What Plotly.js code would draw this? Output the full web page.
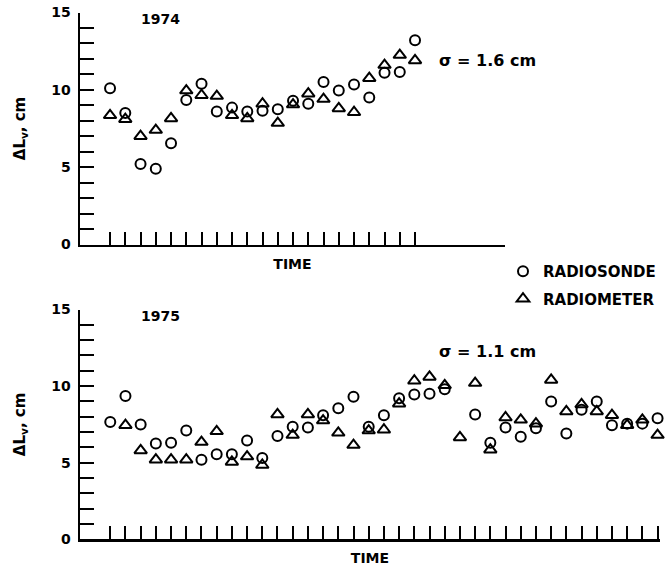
<!DOCTYPE html>
<html>
<head>
<meta charset="utf-8">
<script src="https://cdn.plot.ly/plotly-3.0.1.min.js"></script>
<style>html,body{margin:0;padding:0;background:#fff;}#chart{width:668px;height:570px;}</style>
</head>
<body>
<div id="chart"></div>
<script>
// ---- data ----
const time74 = [1,2,3,4,5,6,7,8,9,10,11,12,13,14,15,16,17,18,19,20,21];
const radiosonde74 = [10.1, 8.5, 5.2, 4.9, 6.55, 9.35, 10.4, 8.6, 8.85, 8.6, 8.65, 8.75, 9.3, 9.1, 10.5, 9.95, 10.35, 9.5, 11.1, 11.15, 13.2];
const radiometer74 = [8.35, 8.1, 7.0, 7.4, 8.15, 9.95, 9.65, 9.6, 8.35, 8.15, 9.1, 7.85, 9.05, 9.75, 9.4, 8.8, 8.55, 10.75, 11.6, 12.25, 11.9];

const time75 = [1,2,3,4,5,6,7,8,9,10,11,12,13,14,15,16,17,18,19,20,21,22,23,24,25,26,27,28,29,30,31,32,33,34,35,36,37];
const radiosonde75 = [7.65, 9.35, 7.5, 6.25, 6.3, 7.1, 5.2, 5.55, 5.55, 6.45, 5.3, 6.75, 7.35, 7.3, 8.1, 8.55, 9.3, 7.35, 8.1, 9.2, 9.45, 9.5, 9.8, null, 8.15, 6.3, 7.3, 6.7, 7.25, 9.0, 6.9, 8.45, 9.0, 7.45, 7.55, 7.55, 7.9];
const radiometer75 = [null, 7.45, 5.8, 5.2, 5.2, 5.2, 6.35, 7.05, 5.05, 5.4, 4.85, 8.15, 6.8, 8.15, 7.75, 6.95, 6.15, 7.1, 7.15, 8.85, 10.35, 10.6, 10.05, 6.65, 10.2, 5.85, 7.95, 7.8, 7.55, 10.4, 8.35, 8.8, 8.35, 8.1, 7.45, 7.8, 6.8];

const yLabelVals = [0, 5, 10, 15];
const yLabelText = ['0', '5', '10', '15'];
const seriesNames = ['RADIOSONDE', 'RADIOMETER'];
const panelYears = ['1974', '1975'];
const sigmaTexts = ['σ = 1.6 cm', 'σ = 1.1 cm'];

const FONT = 'DejaVu Sans, Liberation Sans, sans-serif';
const circleMarker = {symbol: 'circle-open', size: 10, color: '#000', line: {color: '#000', width: 2}};
const triMarker = {symbol: 'triangle-up-open', size: 11, color: '#000', line: {color: '#000', width: 2}};

const traces = [
  {x: time74, y: radiosonde74, xaxis: 'x', yaxis: 'y', mode: 'markers', type: 'scatter',
   name: seriesNames[0], legendgroup: 'a', marker: circleMarker, cliponaxis: false},
  {x: time74, y: radiometer74, xaxis: 'x', yaxis: 'y', mode: 'markers', type: 'scatter',
   name: seriesNames[1], legendgroup: 'b', marker: triMarker, cliponaxis: false},
  {x: time75, y: radiosonde75, xaxis: 'x2', yaxis: 'y2', mode: 'markers', type: 'scatter',
   name: seriesNames[0], legendgroup: 'a', showlegend: false, marker: circleMarker, cliponaxis: false},
  {x: time75, y: radiometer75, xaxis: 'x2', yaxis: 'y2', mode: 'markers', type: 'scatter',
   name: seriesNames[1], legendgroup: 'b', showlegend: false, marker: triMarker, cliponaxis: false}
];

const boldFont = (s) => ({family: FONT, size: s, color: '#000', weight: 'bold'});

function xAxis(domain, range, tickvals, anchor) {
  return {
    domain: domain, range: range, anchor: anchor,
    showgrid: false, zeroline: false, showline: true, linecolor: '#000', linewidth: 2.5,
    ticks: 'inside', ticklen: 13, tickwidth: 2, tickcolor: '#000',
    tickmode: 'array', tickvals: tickvals, showticklabels: false,
    title: {text: 'TIME', font: boldFont(14), standoff: 13},
    automargin: false, fixedrange: true
  };
}
function yAxis(domain, anchor) {
  return {
    domain: domain, range: [0, 15], anchor: anchor,
    showgrid: false, zeroline: false, showline: true, linecolor: '#000', linewidth: 2.5,
    ticks: 'inside', ticklen: 14, tickwidth: 2, tickcolor: '#000',
    tickmode: 'array', tickvals: yLabelVals, ticktext: yLabelText,
    minor: {ticks: 'inside', ticklen: 14, tickwidth: 2, tickcolor: '#000', tickmode: 'linear', tick0: 0, dtick: 1, showgrid: false},
    tickfont: boldFont(14),
    ticklabelstandoff: 4,
    title: {text: 'ΔL<sub>v</sub>, cm', font: boldFont(15), standoff: 22},
    automargin: false, fixedrange: true
  };
}

const W = 668, H = 570;
const layout = {
  width: W, height: H,
  margin: {l: 0, r: 0, t: 0, b: 0, pad: 0},
  paper_bgcolor: '#fff', plot_bgcolor: 'rgba(0,0,0,0)',
  font: {family: FONT, color: '#000'},
  xaxis: xAxis([80/W, 505/W], [-0.97, 26.9], time74, 'y'),
  yaxis: yAxis([(H-244.5)/H, (H-12.5)/H], 'x'),
  xaxis2: xAxis([80/W, 660/W], [-0.99, 37.16], time75, 'y2'),
  yaxis2: yAxis([(H-539.3)/H, (H-309.5)/H], 'x2'),
  showlegend: true,
  legend: {
    x: 503/W, y: (H-255)/H, xanchor: 'left', yanchor: 'top',
    bgcolor: 'rgba(0,0,0,0)', borderwidth: 0,
    font: boldFont(15),
    traceorder: 'grouped', tracegroupgap: 5, itemclick: false
  },
  annotations: [
    {text: panelYears[0], xref: 'paper', yref: 'paper', x: 160/W, y: (H-19)/H, showarrow: false,
     xanchor: 'center', yanchor: 'middle', font: boldFont(14)},
    {text: panelYears[1], xref: 'paper', yref: 'paper', x: 160/W, y: (H-316)/H, showarrow: false,
     xanchor: 'center', yanchor: 'middle', font: boldFont(14)},
    {text: sigmaTexts[0], xref: 'paper', yref: 'paper', x: 437/W, y: (H-60)/H, showarrow: false,
     xanchor: 'left', yanchor: 'middle', font: boldFont(16)},
    {text: sigmaTexts[1], xref: 'paper', yref: 'paper', x: 437/W, y: (H-351)/H, showarrow: false,
     xanchor: 'left', yanchor: 'middle', font: boldFont(16)}
  ]
};

Plotly.newPlot('chart', traces, layout, {staticPlot: true, displayModeBar: false});
</script>
</body>
</html>
